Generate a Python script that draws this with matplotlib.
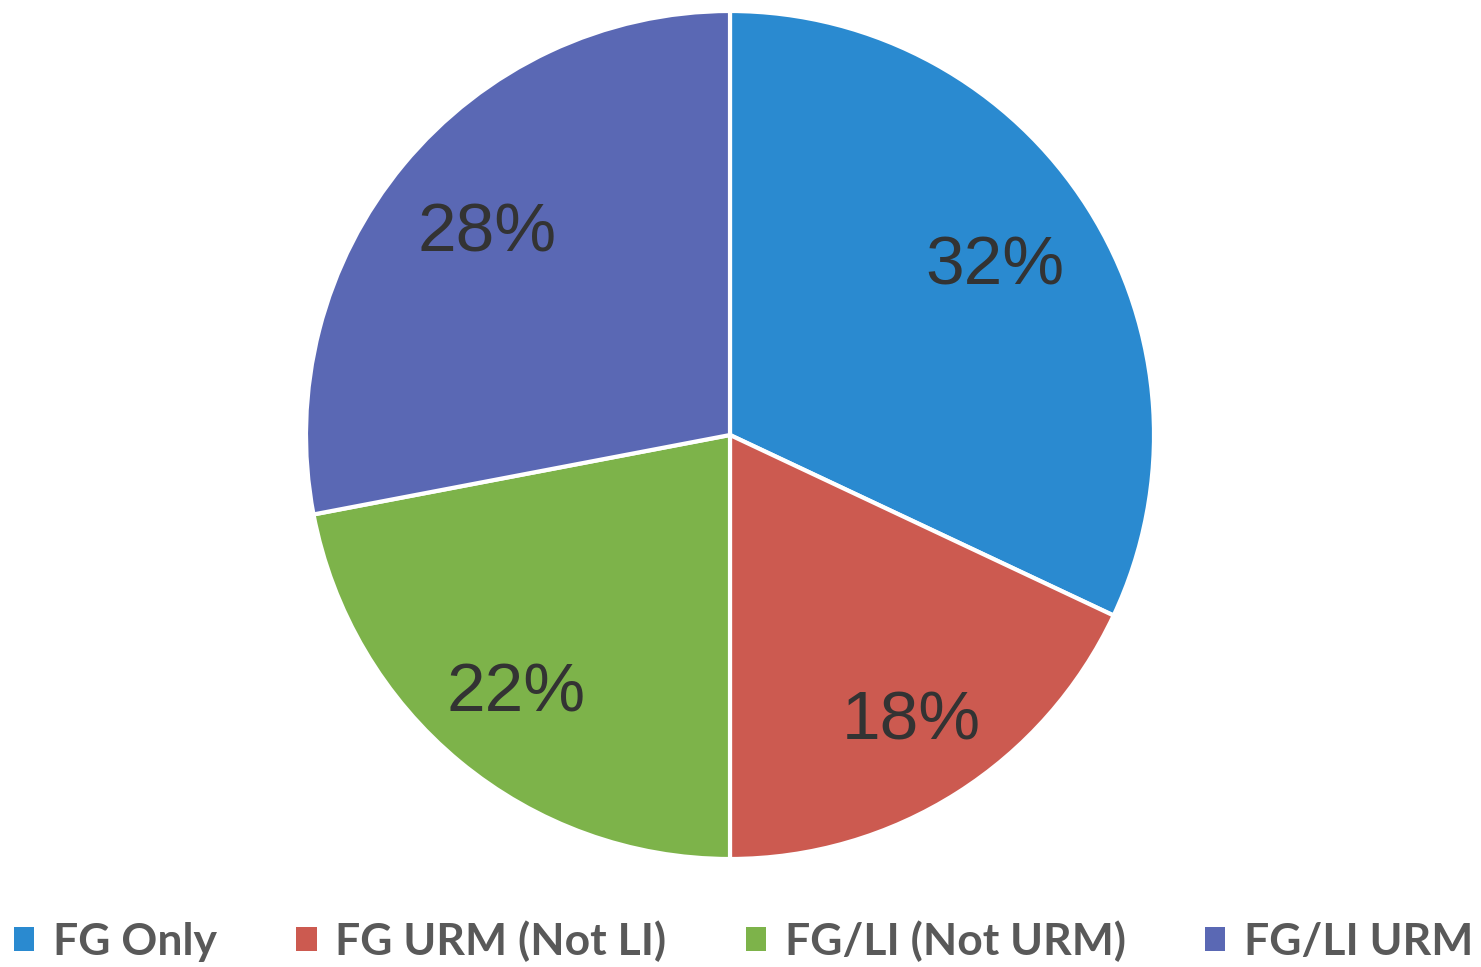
import matplotlib
matplotlib.use('Agg')
import matplotlib.pyplot as plt
import numpy as np

# Data
labels = ['FG Only', 'FG URM (Not LI)', 'FG/LI (Not URM)', 'FG/LI URM']
shares = [32, 18, 22, 28]
colors = ['#2A8AD0', '#CC5A50', '#7DB34A', '#5A68B4']
# how far out each percent label sits (fraction of radius)
label_dist = [0.74, 0.80, 0.79, 0.745]

W, H = 1481, 967
fig = plt.figure(figsize=(W / 100, H / 100), dpi=100)

# pie centre (730, 435) px, radius ~423 px
cx, cy, r = 730, 435, 424
ax = fig.add_axes([(cx - r) / W, (H - cy - r) / H, 2 * r / W, 2 * r / H])

wedges, texts, autotexts = ax.pie(
    shares, colors=colors, startangle=90, counterclock=False,
    autopct='%d%%', pctdistance=0.74,
    wedgeprops=dict(edgecolor='white', linewidth=3),
    textprops=dict(color='#333333', fontsize=50, family='Liberation Sans'),
)
for w, t, d in zip(wedges, autotexts, label_dist):
    ang = np.deg2rad((w.theta1 + w.theta2) / 2)
    t.set_position((d * np.cos(ang), d * np.sin(ang)))
ax.set_aspect('equal')
ax.set_xlim(-1, 1)
ax.set_ylim(-1, 1)

leg = fig.legend(
    wedges, labels, loc='center left', bbox_to_anchor=(14 / W, 26 / H),
    ncol=4, frameon=False, borderpad=0, borderaxespad=0,
    handlelength=0.46, handleheight=0.46, handletextpad=0.42,
    columnspacing=1.78,
    prop=dict(family='Lato', weight='bold', size=32),
    labelcolor='#595959',
)
for h in leg.legend_handles:
    h.set_edgecolor('none')

fig.savefig('out.png', dpi=100)
